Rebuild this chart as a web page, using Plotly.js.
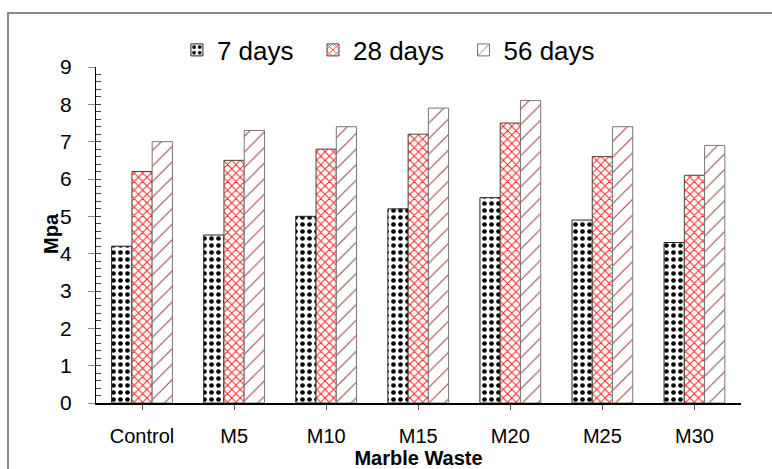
<!DOCTYPE html>
<html>
<head>
<meta charset="utf-8">
<script src="https://cdn.plot.ly/plotly-3.0.1.min.js"></script>
<style>
  html, body { margin: 0; padding: 0; background: #fff; }
  #chart { width: 772px; height: 469px; }
</style>
</head>
<body>
<div id="chart"></div>
<script>
// Compressive strength by marble waste replacement level
const categories = ['Control', 'M5', 'M10', 'M15', 'M20', 'M25', 'M30'];
const days7  = [4.2, 4.5, 5.0, 5.2, 5.5, 4.9, 4.3];
const days28 = [6.2, 6.5, 6.8, 7.2, 7.5, 6.6, 6.1];
const days56 = [7.0, 7.3, 7.4, 7.9, 8.1, 7.4, 6.9];
const seriesNames = ['7 days', '28 days', '56 days'];
const yTicks = [0, 1, 2, 3, 4, 5, 6, 7, 8, 9];
const xTitle = 'Marble Waste';
const yTitle = 'Mpa';

const font = 'Liberation Sans, Arial, sans-serif';
// extra room after each legend label
const legendPad = '\u00a0\u00a0';

function barTrace(name, values, pattern, lineColor) {
  return {
    type: 'bar',
    name: name + legendPad,
    x: categories,
    y: values,
    marker: {
      color: '#ffffff',
      line: { color: lineColor, width: 1 },
      pattern: pattern
    }
  };
}

const traces = [
  barTrace(seriesNames[0], days7,
    { shape: '.', fgcolor: '#000000', bgcolor: '#ffffff', size: 7, solidity: 0.35, fillmode: 'replace' }, '#222222'),
  barTrace(seriesNames[1], days28,
    { shape: 'x', fgcolor: '#ff2020', bgcolor: '#ffffff', size: 6, solidity: 0.3, fillmode: 'replace' }, '#444444'),
  barTrace(seriesNames[2], days56,
    { shape: '/', fgcolor: '#a04848', bgcolor: '#ffffff', size: 11, solidity: 0.1, fillmode: 'replace' }, '#777777')
];

// plot area in pixels: left 96, right 741, top 67, bottom 403
const W = 772, H = 469, L = 96, R = 31, T = 67, B = 66;
const pw = W - L - R, ph = H - T - B;

const layout = {
  width: W,
  height: H,
  margin: { l: L, r: R, t: T, b: B, pad: 0 },
  paper_bgcolor: '#ffffff',
  plot_bgcolor: '#ffffff',
  font: { family: font, color: '#000000' },
  barmode: 'group',
  bargap: 0.34,
  bargroupgap: 0,
  showlegend: true,
  legend: {
    orientation: 'h',
    x: 0.465, xanchor: 'center',
    y: 1 + (T - 50) / ph, yanchor: 'middle',
    font: { family: font, size: 26, color: '#000000' },
    bgcolor: 'rgba(0,0,0,0)'
  },
  xaxis: {
    type: 'category',
    showline: true,
    linecolor: '#000000',
    linewidth: 1.5,
    ticks: 'outside',
    ticklen: 5,
    tickcolor: '#555555',
    ticklabelstandoff: 9,
    tickfont: { family: font, size: 20, color: '#000000' },
    showgrid: false,
    zeroline: false,
    title: { text: '<b>' + xTitle + '</b>', font: { family: font, size: 20 }, standoff: 4 }
  },
  yaxis: {
    range: [0, 9],
    tickvals: yTicks,
    showline: true,
    linecolor: '#000000',
    linewidth: 1,
    ticks: 'outside',
    ticklen: 7,
    tickcolor: '#888888',
    ticklabelstandoff: 12,
    tickfont: { family: font, size: 21, color: '#000000' },
    showgrid: false,
    zeroline: false
  },
  // overlay axis carrying only the inward minor ticks
  yaxis2: {
    overlaying: 'y',
    side: 'left',
    range: [0, 9],
    dtick: 0.2,
    tick0: 0,
    ticks: 'inside',
    ticklen: 5,
    tickcolor: '#444444',
    showticklabels: false,
    showline: false,
    showgrid: false,
    zeroline: false
  },
  annotations: [
    // y-axis title, set close to the tick labels
    {
      text: '<b>' + yTitle + '</b>',
      xref: 'paper', yref: 'paper',
      x: (51 - L) / pw, y: (H - B - 234) / ph,
      xanchor: 'center', yanchor: 'middle',
      textangle: -90,
      showarrow: false,
      font: { family: font, size: 20, color: '#000000' }
    }
  ],
  shapes: [
    // outer frame around the chart
    {
      type: 'rect', xref: 'paper', yref: 'paper',
      x0: (8 - L) / pw, x1: 2,
      y0: -2, y1: (H - B - 13) / ph,
      line: { color: '#8a8a8a', width: 2 },
      fillcolor: 'rgba(0,0,0,0)',
      layer: 'below'
    },
    // closing tick at the end of the category axis
    {
      type: 'line', xref: 'x', yref: 'y', ysizemode: 'pixel', yanchor: 0,
      x0: 6.5, x1: 6.5, y0: 0, y1: -5,
      line: { color: '#555555', width: 1 }
    }
  ]
};

// an empty trace so the overlay axis is drawn
traces.push({ type: 'scatter', x: [], y: [], yaxis: 'y2', showlegend: false, hoverinfo: 'skip' });

Plotly.newPlot('chart', traces, layout, { staticPlot: true, displayModeBar: false });
</script>
</body>
</html>
